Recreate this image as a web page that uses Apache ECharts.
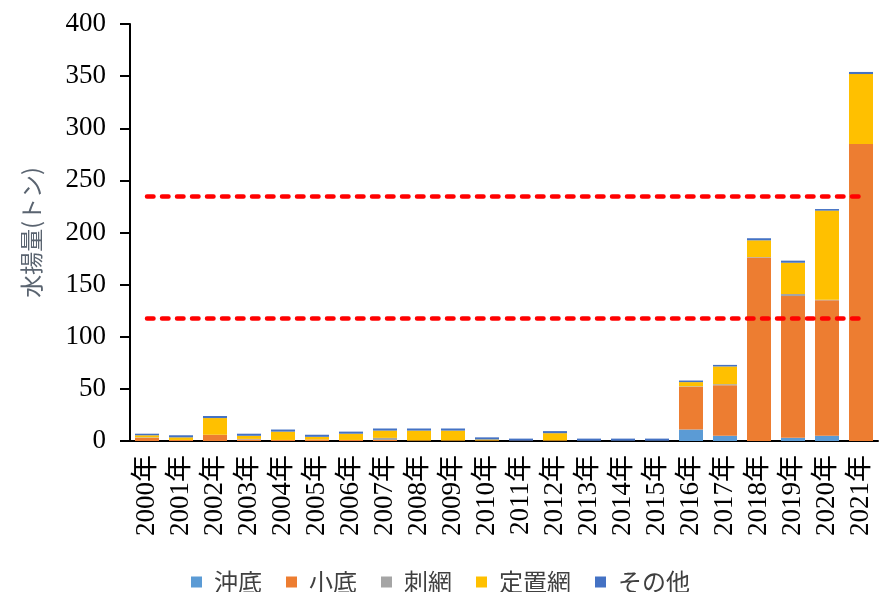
<!DOCTYPE html>
<html>
<head>
<meta charset="utf-8">
<script src="https://cdn.jsdelivr.net/npm/echarts@6/dist/echarts.min.js"></script>
<style>
  html,body{margin:0;padding:0;background:#fff;}
  #d{width:879px;height:592px;}
</style>
</head>
<body>
<div id="d"></div>
<script>
var years=['2000年','2001年','2002年','2003年','2004年','2005年','2006年','2007年','2008年','2009年','2010年',
  '2011年','2012年','2013年','2014年','2015年','2016年','2017年','2018年','2019年','2020年','2021年'];
var okizoko=[0,0,0,0,0,0,0,0,0,0,0,0,0,0,0,0,11,5,0,3,5,0];
var kozoko=[3,1,6,1.5,1,1.5,1,1,0.5,0.5,0.5,0.3,0.5,0,0,0,41,48.5,176,136,130,285];
var sashiami=[0.5,0,0,0.5,0,0,0,2,0,0,0,0,0,0.3,0.3,0.3,0.5,1,0.5,2,0.5,0];
var teichiami=[2,2.5,16,3,8,2.5,6,7,9.5,9.5,1,0,7,0,0,0,4,17,16,30,85.5,67];
var sonota=[1.5,2,2,2,2,2,2,2,2,2,2,2,2,2,2,2,1.5,1.5,2,2,1.5,2];
var refLines=[235,118];

var names=['沖底','小底','刺網','定置網','その他'];
var vals=[okizoko,kozoko,sashiami,teichiami,sonota];
var colors=['#5B9BD5','#ED7D31','#A5A5A5','#FFC000','#4472C4'];

var myChart=echarts.init(document.getElementById('d'));
var option={
  animation:false,
  color:colors,
  grid:{left:130,right:1,top:24,height:417},
  legend:{
    top:565,
    left:186,
    icon:'rect',
    itemWidth:11,
    itemHeight:11,
    itemGap:24,
    data:names,
    textStyle:{fontFamily:'"Noto Sans CJK JP"',fontSize:24,color:'#404040',padding:[0,0,0,7]}
  },
  xAxis:{
    type:'category',
    data:years,
    axisLine:{lineStyle:{color:'#000',width:2}},
    axisTick:{length:10,lineStyle:{color:'#000',width:2}},
    axisLabel:{rotate:90,margin:14,interval:0,color:'#000',fontSize:27,
      fontFamily:'"Liberation Serif","Noto Sans CJK JP"'}
  },
  yAxis:{
    type:'value',
    min:0,max:400,interval:50,
    name:'水揚量(トン)',
    nameLocation:'middle',
    nameGap:87,
    nameTextStyle:{fontFamily:'"Noto Sans CJK JP"',fontSize:23,color:'#5a6470'},
    axisLine:{show:true,lineStyle:{color:'#000',width:2}},
    axisTick:{show:true,length:10,lineStyle:{color:'#000',width:2}},
    splitLine:{show:false},
    axisLabel:{margin:24,color:'#000',fontSize:27,fontFamily:'"Liberation Serif"'}
  },
  series:[]
};

for(var i=0;i<names.length;i++){
  option.series.push({
    name:names[i],
    type:'bar',
    stack:'total',
    barWidth:24,
    data:vals[i]
  });
}

// 赤い点線
var ml=[];
for(var k=0;k<refLines.length;k++){
  ml.push([{coord:[years[0],refLines[k]]},{coord:[years[years.length-1],refLines[k]]}]);
}
option.series[names.length-1].markLine={
  silent:true,
  symbol:['none','none'],
  label:{show:false},
  lineStyle:{color:'#FF0000',width:4.5,type:[6.5,8.5],cap:'round'},
  data:ml
};

myChart.setOption(option);
</script>
</body>
</html>
